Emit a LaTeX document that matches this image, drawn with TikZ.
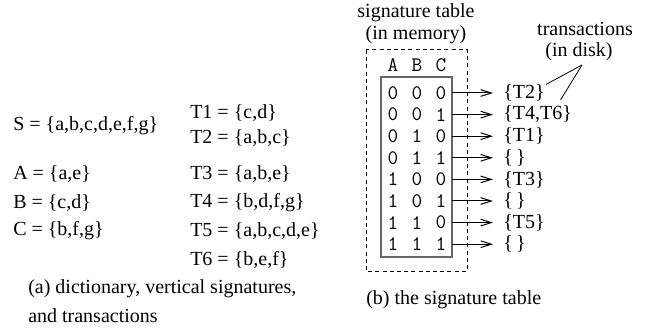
\documentclass[tikz,border=0pt]{standalone}
\usepackage{fontspec}
\setmainfont{Liberation Serif}
\usetikzlibrary{arrows.meta,calc}
\begin{document}
\begin{tikzpicture}[x=0.75pt,y=-0.75pt,
  txt/.style={font=\fontsize{15}{17}\selectfont, inner sep=0pt, anchor=west},
  ctr/.style={font=\fontsize{15}{17}\selectfont, inner sep=0pt},
  bits/.style={font=\ttfamily\fontsize{15.5}{17}\selectfont, inner sep=0pt},
  ptr/.style={line width=0.75pt, -{Straight Barb[length=8pt,width=5pt,line width=0.75pt]}},
  memory/.style={draw, dashed, line width=0.75pt, dash pattern=on 3pt off 2.4pt},
  tablebox/.style={draw=black!60, line width=1.4pt},
  callout/.style={line width=0.6pt}]
\useasboundingbox (0,0) rectangle (652,331);

% (a) dictionary and vertical signatures
\node[txt] (S) at (13,126) {S = \{a,b,c,d,e,f,g\}};
\node[txt] (A) at (13,174) {A = \{a,e\}};
\node[txt] (B) at (13,203) {B = \{c,d\}};
\node[txt] (C) at (13,231) {C = \{b,f,g\}};

% transactions
\node[txt] (T1) at (190,113) {T1 = \{c,d\}};
\node[txt] (T2) at (190,138) {T2 = \{a,b,c\}};
\node[txt] (T3) at (190,174) {T3 = \{a,b,e\}};
\node[txt] (T4) at (190,203) {T4 = \{b,d,f,g\}};
\node[txt] (T5) at (190,231) {T5 = \{a,b,c,d,e\}};
\node[txt] (T6) at (190,260) {T6 = \{b,e,f\}};

\node[txt] (capa1) at (28,289) {(a) dictionary, vertical signatures,};
\node[txt] (capa2) at (28,316) {and transactions};

% (b) signature table
\node[ctr] (title1) at (416,13) {signature table};
\node[ctr] (title2) at (416,35) {(in memory)};
\draw[memory] (366,50) rectangle (467,271);
\node[bits] (hA) at (393,65) {A};
\node[bits] (hB) at (417,65) {B};
\node[bits] (hC) at (441,65) {C};
\draw[tablebox] (381,77) rectangle (452,257);

\foreach \da/\db/\dc/\lab [count=\i] in {0/0/0/\{T2\}, 0/0/1/\{T4{,}T6\}, 0/1/0/\{T1\}, 0/1/1/\{\,\},
                                   1/0/0/\{T3\}, 1/0/1/\{\,\}, 1/1/0/\{T5\}, 1/1/1/\{\,\}} {
  \node[bits] (r\i a) at (393,{93+21.6*(\i-1)}) {\da};
  \node[bits] (r\i b) at (417,{93+21.6*(\i-1)}) {\db};
  \node[bits] (r\i c) at (441,{93+21.6*(\i-1)}) {\dc};
  \coordinate (s\i) at (452,{93+21.6*(\i-1)});
  \node[txt] (l\i) at (503,{93+21.6*(\i-1)}) {\lab};
  \draw[ptr] (s\i) -- ($(l\i.west)+(-10,0)$);
}

\node[ctr] (disk1) at (585,29) {transactions};
\node[ctr] (disk2) at (579,52) {(in disk)};
\coordinate (apex) at (582,65);
\draw[callout] (apex) -- ($(l1.north east)+(1,0)$);
\draw[callout] (apex) -- ($(l2.north)+(23,-6)$);

\node[txt] (capb) at (366,300) {(b) the signature table};
\end{tikzpicture}
\end{document}
